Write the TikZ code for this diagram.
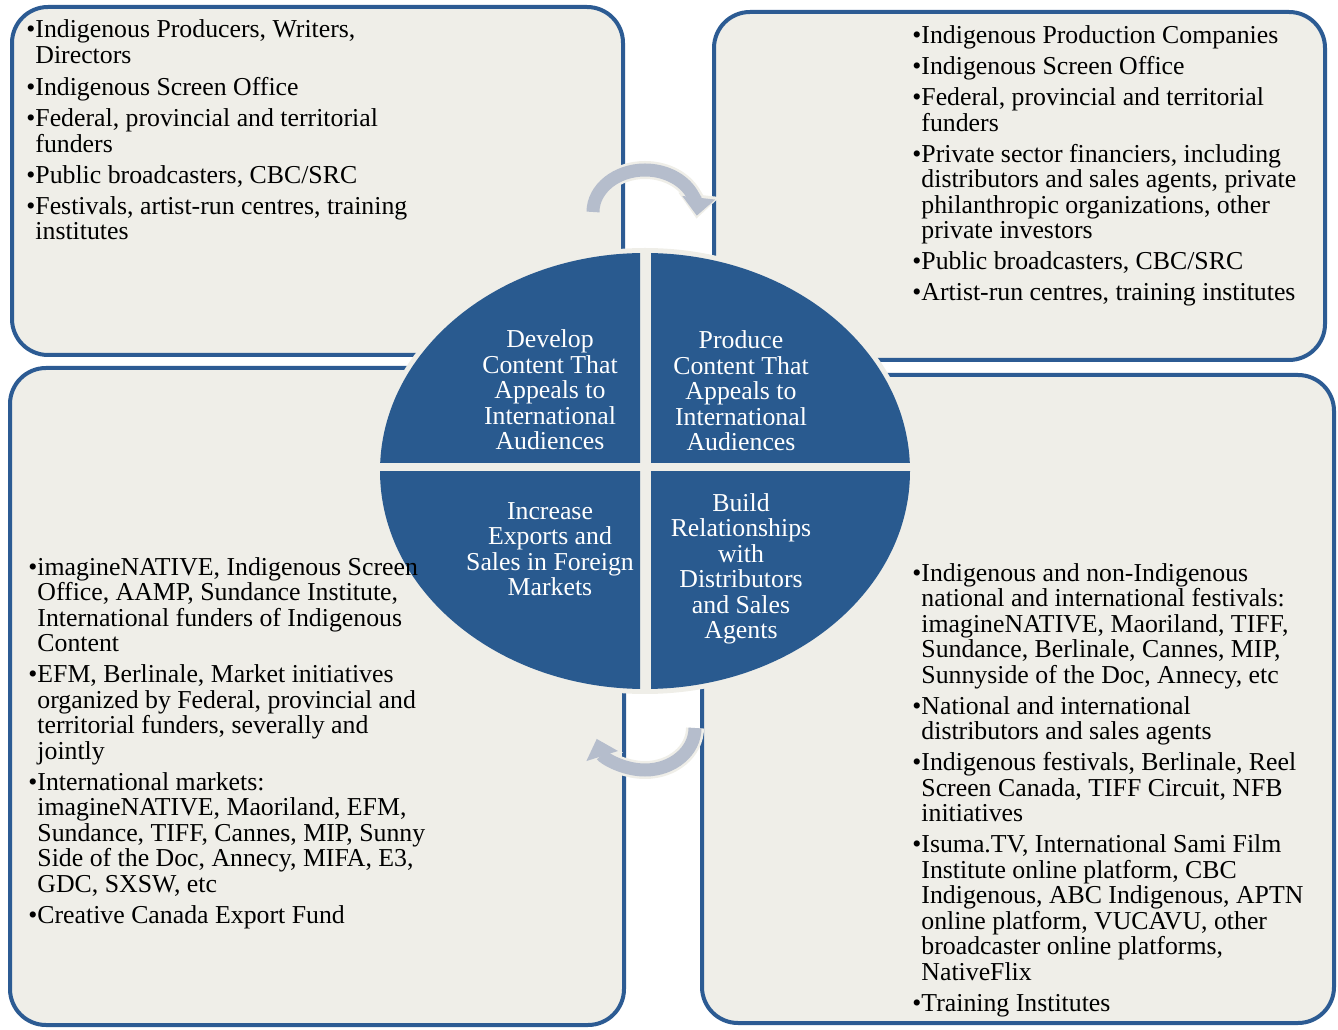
\documentclass[tikz,border=0pt]{standalone}
\usepackage{fontspec}
\setmainfont{Liberation Serif}
\usetikzlibrary{arrows.meta}

\definecolor{panelfill}{HTML}{EFEEE8}
\definecolor{panelblue}{HTML}{2C5B93}
\definecolor{quadblue}{HTML}{295A8F}
\definecolor{turngray}{HTML}{B5BDCC}

\newcommand{\bul}{\textbullet}
\newcommand{\ind}{\hphantom{\textbullet}}

\tikzset{
  panel/.style={draw=panelblue, fill=panelfill, line width=2pt, rounded corners=18pt},
  listtext/.style={anchor=base west, align=left, inner sep=0pt, font=\fontsize{12.9}{12.75}\selectfont},
  quadtext/.style={anchor=base, align=center, inner sep=0pt, text=white, font=\fontsize{12.9}{12.75}\selectfont},
  turnhalo/.style={draw=panelfill, line width=9pt, shorten >=-1.5pt, -{Triangle[width=20pt,length=12pt]}},
  turnarrow/.style={draw=turngray, line width=6.5pt, -{Triangle[width=16pt,length=9pt]}}
}

\begin{document}
\begin{tikzpicture}[x=0.5pt,y=0.5pt]
        \useasboundingbox (0,0) rectangle (1338,1029);
        % four panels
        \draw[panel] (12,674) rectangle (623,1022);
        \draw[panel] (714,669) rectangle (1325,1017);
        \draw[panel] (10,4) rectangle (624,661);
        \draw[panel] (702,6) rectangle (1334,654);
        % turning arrows
        \draw[turnhalo] (593,817) arc[start angle=180, end angle=-5, x radius=26pt, y radius=21pt];
        \draw[turnarrow] (593,817) arc[start angle=180, end angle=-5, x radius=26pt, y radius=21pt];
        \draw[turnhalo] (695,301) arc[start angle=0, end angle=-165, x radius=25pt, y radius=21pt];
        \draw[turnarrow] (695,301) arc[start angle=0, end angle=-165, x radius=25pt, y radius=21pt];
        % centre disc
        \fill[panelfill] (645,558) ellipse[x radius=135pt, y radius=111.5pt];
        \foreach \xa/\ya/\xb/\yb in {370/566/640/790, 651/566/920/790, 370/330/640/557, 651/330/920/557}
            {\begin{scope}
                \clip (\xa,\ya) rectangle (\xb,\yb);
                \fill[quadblue] (645,558) ellipse[x radius=132.5pt, y radius=109pt];
            \end{scope}}
        % (base anchor sits on the last line)
        \node[quadtext] (develop) at (550,579) {Develop\\Content That\\Appeals to\\International\\Audiences};
        \node[quadtext] (produce) at (741,578) {Produce\\Content That\\Appeals to\\International\\Audiences};
        \node[quadtext] (increase) at (550,433) {Increase\\Exports and\\Sales in Foreign\\Markets};
        \node[quadtext] (build) at (741,390) {Build\\Relationships\\with\\Distributors\\and Sales\\Agents};
        % lists
        \node[listtext] (devlist) at (26,789) {\bul Indigenous Producers, Writers,\\
            \ind Directors\\[3.5pt]
            \bul Indigenous Screen Office\\[2.75pt]
            \bul Federal, provincial and territorial\\
            \ind funders\\[2.75pt]
            \bul Public broadcasters, CBC/SRC\\[2.75pt]
            \bul Festivals, artist-run centres, training\\
            \ind institutes};
        \node[listtext] (prodlist) at (912,728) {\bul Indigenous Production Companies\\[2.75pt]
            \bul Indigenous Screen Office\\[2.75pt]
            \bul Federal, provincial and territorial\\
            \ind funders\\[2.75pt]
            \bul Private sector financiers, including\\
            \ind distributors and sales agents, private\\
            \ind philanthropic organizations, other\\
            \ind private investors\\[2.75pt]
            \bul Public broadcasters, CBC/SRC\\[2.75pt]
            \bul Artist-run centres, training institutes};
        \node[listtext] (exportlist) at (28,106) {\bul imagineNATIVE, Indigenous Screen\\
            \ind Office, AAMP, Sundance Institute,\\
            \ind International funders of Indigenous\\
            \ind Content\\[2.75pt]
            \bul EFM, Berlinale, Market initiatives\\
            \ind organized by Federal, provincial and\\
            \ind territorial funders, severally and\\
            \ind jointly\\[2.75pt]
            \bul International markets:\\
            \ind imagineNATIVE, Maoriland, EFM,\\
            \ind Sundance, TIFF, Cannes, MIP, Sunny\\
            \ind Side of the Doc, Annecy, MIFA, E3,\\
            \ind GDC, SXSW, etc\\[2.75pt]
            \bul Creative Canada Export Fund};
        \node[listtext] (buildlist) at (912,18) {\bul Indigenous and non-Indigenous\\
            \ind national and international festivals:\\
            \ind imagineNATIVE, Maoriland, TIFF,\\
            \ind Sundance, Berlinale, Cannes, MIP,\\
            \ind Sunnyside of the Doc, Annecy, etc\\[2.75pt]
            \bul National and international\\
            \ind distributors and sales agents\\[2.75pt]
            \bul Indigenous festivals, Berlinale, Reel\\
            \ind Screen Canada, TIFF Circuit, NFB\\
            \ind initiatives\\[2.75pt]
            \bul Isuma.TV, International Sami Film\\
            \ind Institute online platform, CBC\\
            \ind Indigenous, ABC Indigenous, APTN\\
            \ind online platform, VUCAVU, other\\
            \ind broadcaster online platforms,\\
            \ind NativeFlix\\[2.75pt]
            \bul Training Institutes};
\end{tikzpicture}
\end{document}
